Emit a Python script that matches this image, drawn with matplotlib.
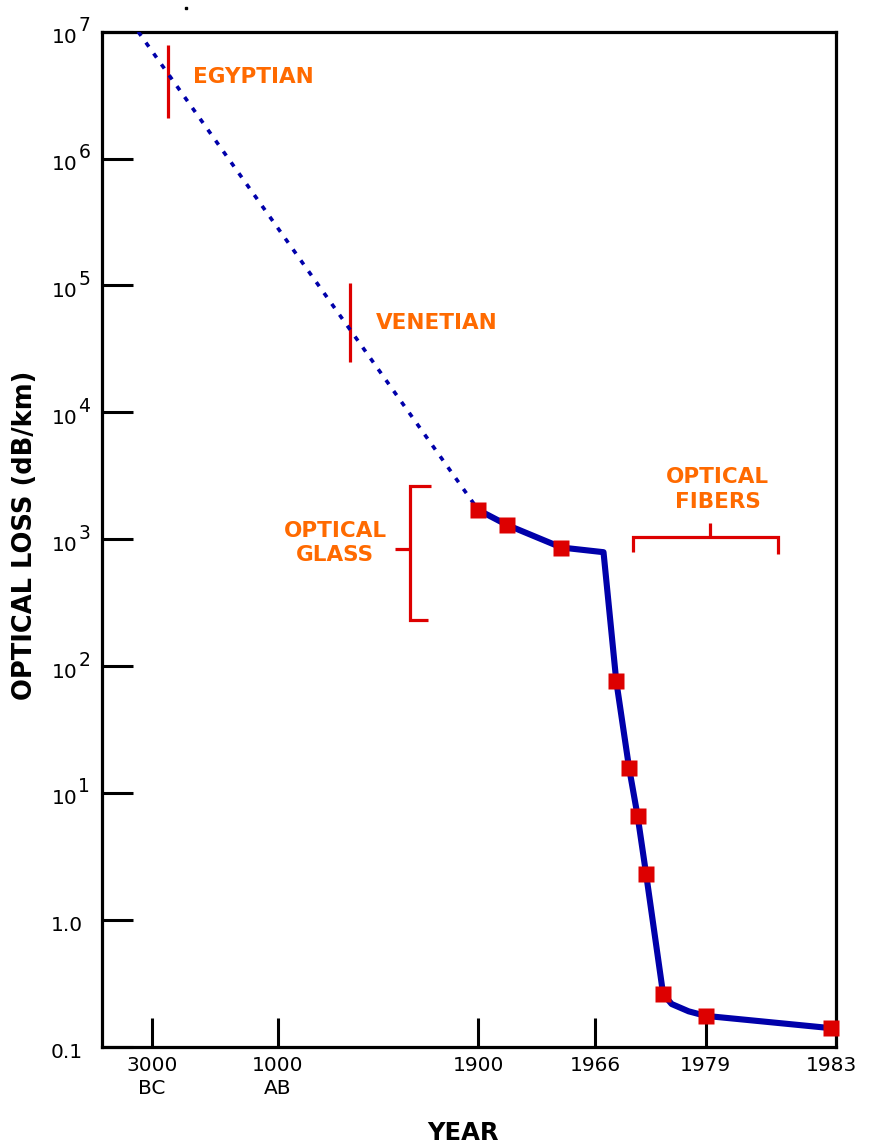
import numpy as np
import matplotlib
matplotlib.use("Agg")
import matplotlib.pyplot as plt
from matplotlib import transforms
from matplotlib.lines import Line2D
from matplotlib.ticker import NullLocator

# Extrapolated historical trend (dotted): ancient glass down to 1900
trend_years = [-3430, 1900]
trend_loss = [1.0e7, 1700]

# Measured optical loss curve (dB/km)
curve_years = [1900, 1916, 1947, 1967, 1968.5, 1970, 1971, 1972, 1974, 1975, 1977, 1979, 1983]
curve_loss = [1700, 1300, 860, 790, 76, 15.8, 6.6, 2.3, 0.26, 0.217, 0.19, 0.175, 0.14]

# Milestone measurements shown as squares
point_years = [1900, 1916, 1947, 1968.5, 1970, 1971, 1972, 1974, 1979, 1983]
point_loss = [1700, 1300, 860, 76, 15.8, 6.6, 2.3, 0.26, 0.175, 0.14]

year_ticks = [-3000, 1000, 1900, 1966, 1979, 1983]
year_labels = ["3000\nBC", "1000\nAB", "1900", "1966", "1979", "1983"]
loss_ticks = [0.1, 1.0, 1e1, 1e2, 1e3, 1e4, 1e5, 1e6, 1e7]
loss_bases = ["0.1", "1.0", "10", "10", "10", "10", "10", "10", "10"]
loss_exps = ["", "", "1", "2", "3", "4", "5", "6", "7"]

# Piecewise time axis: each era gets its own stretch of the axis
knot_years = np.array([-4580, -3000, 1000, 1900, 1966, 1979, 1983, 1983.15])
knot_pos = np.array([0.0, 49.7, 175.7, 376.3, 493.0, 603.7, 729.0, 734.0])


def fwd(x):
    return np.interp(x, knot_years, knot_pos)


def inv(p):
    return np.interp(p, knot_pos, knot_years)


BLUE = "#0000AA"
RED = "#DD0000"
ORANGE = "#FF6A00"

W, H = 869, 1146
fig = plt.figure(figsize=(W / 100, H / 100), dpi=100)
ax = fig.add_axes([102 / W, (H - 1046.7) / H, 734 / W, 1015 / H])

ax.set_xscale("function", functions=(fwd, inv))
ax.set_yscale("log")
ax.set_xlim(knot_years[0], knot_years[-1])
ax.set_ylim(0.1, 1e7)

# dotted extrapolation
ax.plot(trend_years, trend_loss, color=BLUE, lw=2.6, dashes=(1.4, 2.3),
        solid_capstyle="butt", dash_capstyle="butt", zorder=3)
# measured curve and markers
ax.plot(curve_years, curve_loss, color=BLUE, lw=4.4, solid_joinstyle="round",
        zorder=4, clip_on=False)
ax.plot(point_years, point_loss, ls="none", marker="s", ms=12, color=RED,
        mec="none", zorder=5, clip_on=False)

# axes frame and ticks
for sp in ax.spines.values():
    sp.set_linewidth(2.3)
    sp.set_color("black")
ax.set_xticks(year_ticks)
ax.set_xticklabels(year_labels)
ax.set_yticks(loss_ticks)
ax.set_yticklabels([])
ax.xaxis.set_minor_locator(NullLocator())
ax.yaxis.set_minor_locator(NullLocator())
ax.tick_params(axis="both", direction="in", width=2.2, color="black")
ax.tick_params(axis="x", length=21, pad=7, labelsize=14.5)
ax.tick_params(axis="y", length=22)
for lbl in ax.get_xticklabels():
    lbl.set_linespacing(1.25)
ax.xaxis.get_major_ticks()[-1].tick1line.set_visible(False)

# y tick labels: base number with a raised exponent
ytrans = transforms.blended_transform_factory(fig.transFigure, ax.transData)
for v, base, ex in zip(loss_ticks, loss_bases, loss_exps):
    t_base = transforms.offset_copy(ytrans, fig=fig, x=0, y=-6 * 0.72, units="points")
    xr = (78 if ex else 82.5) / W
    ax.text(xr, v, base, transform=t_base, ha="right", va="center",
            fontsize=14.5, color="black", clip_on=False)
    if ex:
        t_ex = transforms.offset_copy(ytrans, fig=fig, x=0, y=6 * 0.72, units="points")
        ax.text(78.5 / W, v, ex, transform=t_ex, ha="left", va="center",
                fontsize=13.5, color="black", clip_on=False)

fig.text(25 / W, 1 - 535 / H, "OPTICAL LOSS (dB/km)", rotation=90,
         ha="center", va="center", fontsize=18.5, fontweight="bold")
fig.text(463 / W, 1 - 1133 / H, "YEAR", ha="center", va="center",
         fontsize=17.5, fontweight="bold")

# era labels
txt = dict(color=ORANGE, fontsize=15.5, fontweight="bold", transform=ax.transAxes)
ax.text(0.1240, 0.955, "EGYPTIAN", ha="left", va="center", **txt)
ax.text(0.3730, 0.713, "VENETIAN", ha="left", va="center", **txt)
ax.text(0.3174, 0.4962, "OPTICAL\nGLASS", ha="center", va="center",
        linespacing=1.3, multialignment="center", **txt)
ax.text(0.8386, 0.549, "OPTICAL\nFIBERS", ha="center", va="center",
        linespacing=1.3, multialignment="center", **txt)

# era brackets
br = dict(color=RED, lw=2.3, transform=ax.transAxes, solid_capstyle="butt",
          solid_joinstyle="miter", clip_on=False)
ax.add_line(Line2D([0.0895, 0.0895], [0.9150, 0.9869], **br))
ax.add_line(Line2D([0.3379, 0.3379], [0.6746, 0.7524], **br))
ax.add_line(Line2D([0.4478, 0.4196, 0.4196, 0.4441],
                   [0.5524, 0.5524, 0.4204, 0.4204], **br))
ax.add_line(Line2D([0.3992, 0.4196], [0.4906, 0.4906], **br))
ax.add_line(Line2D([0.7234, 0.7234, 0.9206, 0.9206],
                   [0.4877, 0.5025, 0.5025, 0.4854], **br))
ax.add_line(Line2D([0.8283, 0.8283], [0.5025, 0.5163], **br))

# small speck above the frame
fig.add_artist(Line2D([185.7 / W], [1 - 8.3 / H], marker="s", ms=2,
                      color="black", transform=fig.transFigure))

fig.savefig("out.png", dpi=100)
